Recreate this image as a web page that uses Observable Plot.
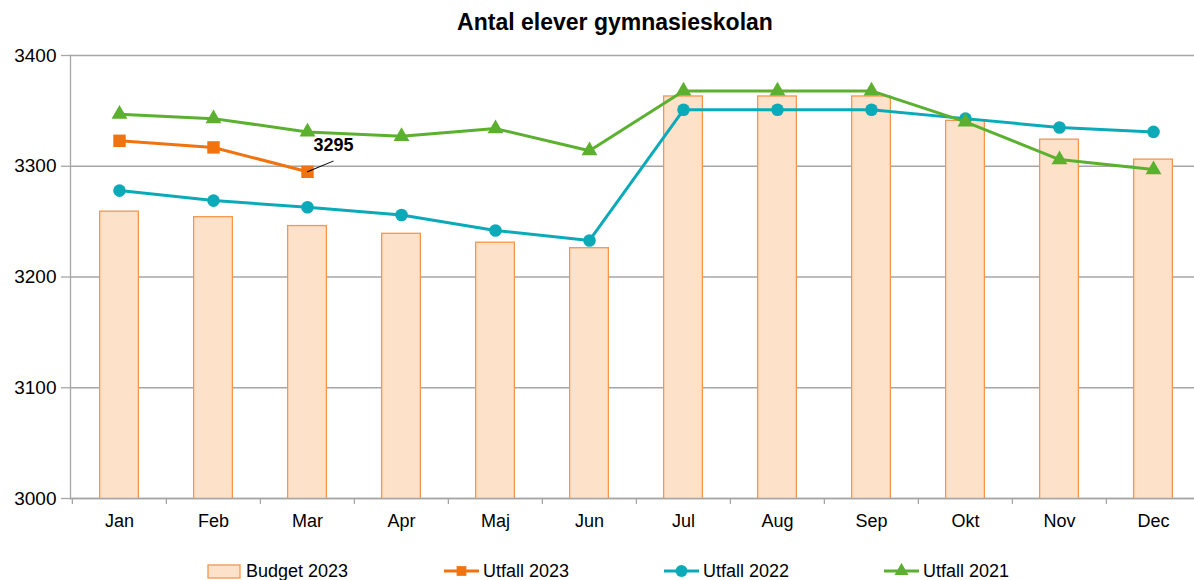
<!DOCTYPE html>
<html>
<head>
<meta charset="utf-8">
<script src="https://cdn.jsdelivr.net/npm/d3@7"></script>
<script src="https://cdn.jsdelivr.net/npm/@observablehq/plot@0.6"></script>
<style>
  html, body { margin: 0; padding: 0; background: #fff; overflow: hidden; }
  #wrap { position: relative; width: 1194px; height: 580px; overflow: hidden; font-family: "Liberation Sans", Arial, sans-serif; color: #000; }
  #title { position: absolute; top: 9px; left: 615px; transform: translateX(-50%); font-size: 23px; font-weight: bold; line-height: 26px; white-space: nowrap; }
  #chart { position: absolute; top: 40px; left: 0; }
  #chart svg { overflow: hidden; }
  .leg { position: absolute; top: 560px; height: 22px; font-size: 18px; line-height: 22px; white-space: nowrap; display: flex; align-items: center; }
  .leg svg { display: block; margin-right: 4px; }
</style>
</head>
<body>
<div id="wrap">
  <div id="title">Antal elever gymnasieskolan</div>
  <div id="chart"></div>
  <div id="legend"></div>
</div>
<script>
const months = ["Jan","Feb","Mar","Apr","Maj","Jun","Jul","Aug","Sep","Okt","Nov","Dec"];
const budget2023 = [3259,3254,3246,3239,3231,3226,3363,3363,3363,3341,3324,3306];
const utfall2023 = [3323,3317,3295];
const utfall2022 = [3278,3269,3263,3256,3242,3233,3351,3351,3351,3343,3335,3331];
const utfall2021 = [3347,3343,3331,3327,3334,3314,3368,3368,3368,3340,3306,3297];
const yTicks = [3000,3100,3200,3300,3400];

const cBarFill = "#FDE1C8", cBarStroke = "#F7964A";
const cOrange = "#F07310", cTeal = "#0BAAB9", cGreen = "#5BB12F";
const cGrid = "#A6A6A6";

const bars = months.map((m,i) => ({month: m, value: budget2023[i]}));
const s23 = utfall2023.map((v,i) => ({month: months[i], value: v}));
const s22 = utfall2022.map((v,i) => ({month: months[i], value: v}));
const s21 = utfall2021.map((v,i) => ({month: months[i], value: v}));
const lastLabel = [s23[s23.length-1]];

const xRange = [70, 1201];
const bw = (xRange[1]-xRange[0]) / months.length;

const plot = Plot.plot({
  width: 1194,
  height: 505,
  marginTop: 15,
  marginBottom: 47,
  marginLeft: 70,
  marginRight: 0,
  style: {fontFamily: '"Liberation Sans", Arial, sans-serif', fontSize: "18px", color: "#000", background: "transparent"},
  x: {type: "band", domain: months, range: xRange, padding: 0, label: null},
  y: {domain: [3000, 3400], label: null},
  marks: [
    Plot.gridY(yTicks, {stroke: cGrid, strokeOpacity: 1, strokeWidth: 1.3}),
    Plot.barY(bars, {x: "month", y: "value", fill: cBarFill, stroke: cBarStroke, strokeWidth: 1.3, insetLeft: (bw-39)/2, insetRight: (bw-39)/2, clip: true}),
    Plot.gridY([yTicks[0]], {stroke: cGrid, strokeOpacity: 1, strokeWidth: 1.3}),
    Plot.frame({anchor: "left", stroke: cGrid, strokeWidth: 1.3}),
    Plot.axisY(yTicks, {tickSize: 9, tickPadding: 5, tickFormat: d => String(d), stroke: cGrid, strokeWidth: 1.3, fontSize: 19, fill: "#000"}),
    Plot.axisX({tickSize: 6, text: null, dx: -bw/2, stroke: cGrid, strokeWidth: 1.3}),
    Plot.axisX({tickSize: 0, tickPadding: 16, fontSize: 18, fill: "#000"}),
    Plot.line(s23, {x: "month", y: "value", stroke: cOrange, strokeWidth: 3}),
    Plot.dot(s23, {x: "month", y: "value", symbol: "square", r: 7, fill: cOrange, stroke: "none"}),
    Plot.line(s22, {x: "month", y: "value", stroke: cTeal, strokeWidth: 3}),
    Plot.dot(s22, {x: "month", y: "value", symbol: "circle", r: 6.3, fill: cTeal, stroke: "none"}),
    Plot.line(s21, {x: "month", y: "value", stroke: cGreen, strokeWidth: 3}),
    Plot.dot(s21, {x: "month", y: "value", symbol: "triangle", r: 5.9, fill: cGreen, stroke: "none"}),
    Plot.vector(lastLabel, {x: "month", y: "value", length: 27.8, rotate: 67.4, anchor: "start", stroke: "#000", strokeWidth: 1,
      shape: {draw(ctx, l) { ctx.moveTo(0, 0); ctx.lineTo(0, -l); }}}),
    Plot.text(lastLabel, {x: "month", y: "value", text: d => String(d.value), dx: 26, dy: -27, fontSize: 18, fontWeight: "bold", fill: "#000"})
  ]
});
document.getElementById("chart").appendChild(plot);

// Legend
const legendItems = [
  {label: "Budget 2023", type: "bar", left: 207},
  {label: "Utfall 2023", type: "square", color: cOrange, left: 444},
  {label: "Utfall 2022", type: "circle", color: cTeal, left: 664},
  {label: "Utfall 2021", type: "triangle", color: cGreen, left: 884}
];
const legend = document.getElementById("legend");
for (const it of legendItems) {
  const div = document.createElement("div");
  div.className = "leg";
  div.style.left = it.left + "px";
  let sw;
  if (it.type === "bar") {
    sw = `<svg width="35" height="16"><rect x="1" y="2" width="32" height="13" fill="${cBarFill}" stroke="${cBarStroke}" stroke-width="1.3"/></svg>`;
  } else {
    const sym = it.type === "square" ? d3.symbolSquare : it.type === "circle" ? d3.symbolCircle : d3.symbolTriangle;
    const size = it.type === "square" ? 95 : it.type === "circle" ? 110 : 85;
    const p = d3.symbol(sym, size)();
    sw = `<svg width="35" height="16"><line x1="0" x2="35" y1="8" y2="8" stroke="${it.color}" stroke-width="3"/><path d="${p}" transform="translate(17.5,8)" fill="${it.color}"/></svg>`;
  }
  div.innerHTML = sw + `<span>${it.label}</span>`;
  legend.appendChild(div);
}
</script>
</body>
</html>
